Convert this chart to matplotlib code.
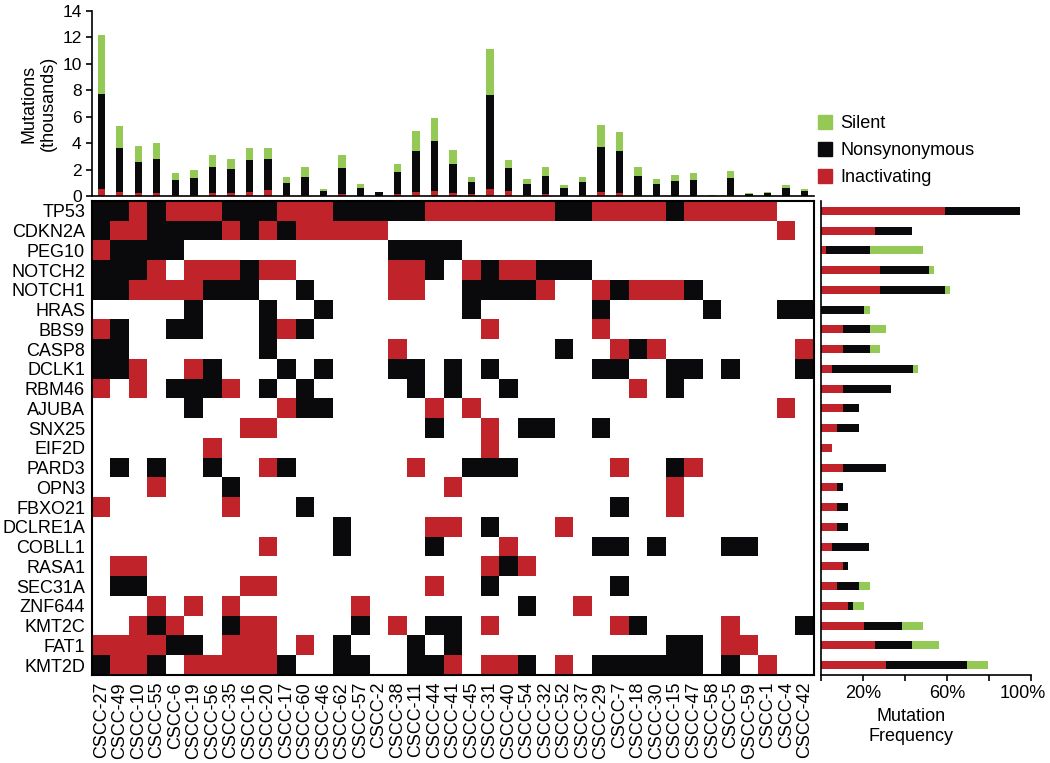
import numpy as np
import matplotlib.pyplot as plt
import matplotlib.transforms as mtransforms
from matplotlib.colors import ListedColormap
from matplotlib.patches import Patch

plt.rcParams['font.family'] = ['Liberation Sans', 'DejaVu Sans']

RED = '#c1232b'
BLACK = '#0a0a0c'
GREEN = '#93c954'
FS = 13

# samples (columns) and genes (rows)
samples = ['CSCC-27', 'CSCC-49', 'CSCC-10', 'CSCC-55', 'CSCC-6', 'CSCC-19', 'CSCC-56',
           'CSCC-35', 'CSCC-16', 'CSCC-20', 'CSCC-17', 'CSCC-60', 'CSCC-46', 'CSCC-62',
           'CSCC-57', 'CSCC-2', 'CSCC-38', 'CSCC-11', 'CSCC-44', 'CSCC-41', 'CSCC-45',
           'CSCC-31', 'CSCC-40', 'CSCC-54', 'CSCC-32', 'CSCC-52', 'CSCC-37', 'CSCC-29',
           'CSCC-7', 'CSCC-18', 'CSCC-30', 'CSCC-15', 'CSCC-47', 'CSCC-58', 'CSCC-5',
           'CSCC-59', 'CSCC-1', 'CSCC-4', 'CSCC-42']

genes = ['TP53', 'CDKN2A', 'PEG10', 'NOTCH2', 'NOTCH1', 'HRAS', 'BBS9', 'CASP8',
         'DCLK1', 'RBM46', 'AJUBA', 'SNX25', 'EIF2D', 'PARD3', 'OPN3', 'FBXO21',
         'DCLRE1A', 'COBLL1', 'RASA1', 'SEC31A', 'ZNF644', 'KMT2C', 'FAT1', 'KMT2D']

# mutation calls per gene: R = inactivating, B = nonsynonymous, . = none
calls = [
    'BBRBRRRBBB' 'RRRBBBBBRR' 'RRRRRBBRRR' 'RBRRRRR..',
    'BRRBBBBRBR' 'BRRRRR....' '..........' '.......R.',
    'RBBBB.....' '......BBBB' '..........' '.........',
    'BBBR.RRRBR' 'R.....RRB.' 'RBRRBBB...' '.........',
    'BBRRRRBBB.' '.B....RR..' 'BBBBR..RBR' 'RRB......',
    '.....B...B' '..B.......' 'B......B..' '...B...BB',
    'RB..BB...B' 'RB........' '.R.....R..' '.........',
    'BB.......B' '......R...' '.....B..RB' 'R.......R',
    'BBR..RB...' 'B.B...BB.B' '.B.....BB.' '.BB.B...B',
    'R.R.BBBR.B' '.B.....B.B' '..B......R' '.B.......',
    '.....B....' 'RBB.....R.' 'R.........' '.......R.',
    '........RR' '........B.' '.R.BB..B..' '.........',
    '......R...' '..........' '.R........' '.........',
    '.B.B..B..R' 'B......R..' 'BBB.....R.' '.BR......',
    '...R...B..' '.........R' '..........' '.R.......',
    'R......R..' '.B........' '........B.' '.R.......',
    '..........' '...B....RR' '.B...R....' '.........',
    '.........R' '...B....B.' '..R....BB.' 'B...BB...',
    '.RR.......' '..........' '.RBR......' '.........',
    '.BB.....RR' '........R.' '.B......B.' '.........',
    '...R.R.R..' '....R.....' '...B..R...' '.........',
    '..RBR..BRR' '....B.R.BB' '.R......RB' '....R...B',
    'RRRRBB.RRR' '.R.B...B.B' '..........' '.BB.RR...',
    'BRRB.RRRRR' 'B..BB..BBR' '.RRB.R.BBB' 'BBB.B.R..',
]

# mutations per sample (thousands)
inact_k = [0.53, 0.28, 0.20, 0.20, 0.10, 0.10, 0.20, 0.20, 0.33, 0.43, 0.08, 0.10, 0.02,
           0.12, 0.03, 0.00, 0.15, 0.28, 0.38, 0.23, 0.15, 0.56, 0.35, 0.10, 0.13, 0.03,
           0.10, 0.28, 0.25, 0.10, 0.03, 0.03, 0.03, 0.00, 0.10, 0.00, 0.00, 0.03, 0.03]
nonsyn_k = [7.22, 3.32, 2.40, 2.60, 1.14, 1.30, 2.03, 1.83, 2.37, 2.37, 0.92, 1.37, 0.36,
            2.03, 0.60, 0.28, 1.65, 3.14, 3.80, 2.23, 0.89, 7.06, 1.78, 0.81, 1.36, 0.55,
            0.99, 3.42, 3.12, 1.44, 0.88, 1.11, 1.19, 0.02, 1.30, 0.18, 0.25, 0.55, 0.32]
silent_k = [4.40, 1.67, 1.20, 1.20, 0.48, 0.57, 0.91, 0.77, 0.90, 0.80, 0.42, 0.73, 0.12,
            0.99, 0.26, 0.02, 0.66, 1.47, 1.74, 1.04, 0.43, 3.52, 0.58, 0.36, 0.69, 0.23,
            0.38, 1.64, 1.49, 0.64, 0.36, 0.43, 0.53, 0.02, 0.52, 0.02, 0.05, 0.24, 0.20]

# mutation frequency per gene (%)
inact_pct = [59.0, 25.6, 2.6, 28.2, 28.2, 0.0, 10.3, 10.3, 5.1, 10.3, 10.3, 7.7,
             5.1, 10.3, 7.7, 7.7, 7.7, 5.1, 10.3, 7.7, 12.8, 20.5, 25.6, 30.8]
nonsyn_pct = [35.9, 17.9, 20.5, 23.1, 30.8, 20.5, 12.8, 12.8, 38.5, 23.1, 7.7, 10.3,
              0.0, 20.5, 2.6, 5.1, 5.1, 17.9, 2.6, 10.3, 2.6, 17.9, 17.9, 38.5]
silent_pct = [0.0, 0.0, 25.6, 2.6, 2.6, 2.6, 7.7, 5.1, 2.6, 0.0, 0.0, 0.0,
              0.0, 0.0, 0.0, 0.0, 0.0, 0.0, 0.0, 5.1, 5.1, 10.3, 12.8, 10.3]

code = {'.': 0, 'R': 1, 'B': 2}
mat = np.array([[code[c] for c in row] for row in calls])

fig = plt.figure(figsize=(10.5, 7.63), dpi=100)
ax_top = fig.add_axes([0.0876, 0.7431, 0.6876, 0.2425])
ax_mat = fig.add_axes([0.0876, 0.1153, 0.6876, 0.6212])
ax_bar = fig.add_axes([0.7819, 0.1153, 0.2, 0.6212])

# top: mutation counts
x = np.arange(len(samples))
ax_top.bar(x, inact_k, 0.4, color=RED)
ax_top.bar(x, nonsyn_k, 0.4, bottom=inact_k, color=BLACK)
ax_top.bar(x, silent_k, 0.4, bottom=np.add(inact_k, nonsyn_k), color=GREEN)
ax_top.set_xlim(-0.5, len(samples) - 0.5)
ax_top.set_ylim(0, 14)
ax_top.set_yticks(range(0, 15, 2))
ax_top.set_xticks([])
ax_top.tick_params(axis='y', labelsize=12.5, length=4, width=1.2)
ax_top.set_ylabel('Mutations\n(thousands)', fontsize=FS)
for s in ['top', 'right']:
    ax_top.spines[s].set_visible(False)
for s in ['left', 'bottom']:
    ax_top.spines[s].set_linewidth(1.2)

ax_top.legend(handles=[Patch(color=GREEN, label='Silent'),
                       Patch(color=BLACK, label='Nonsynonymous'),
                       Patch(color=RED, label='Inactivating')],
              loc='upper left', bbox_to_anchor=(818 / 1050, 1 - 115 / 763),
              bbox_transform=fig.transFigure, frameon=False, fontsize=FS,
              handlelength=0.78, handleheight=0.78, handletextpad=0.45,
              labelspacing=0.55, borderpad=0, borderaxespad=0)

# middle: mutation matrix
cmap = ListedColormap(['white', RED, BLACK])
ax_mat.imshow(mat, cmap=cmap, vmin=0, vmax=2, aspect='auto', interpolation='nearest')
ax_mat.set_xticks(x)
ax_mat.set_xticklabels(samples, rotation=90, fontsize=FS)
ax_mat.set_yticks(range(len(genes)))
ax_mat.set_yticklabels(genes, fontsize=FS)
ax_mat.tick_params(axis='y', length=0, pad=5)
ax_mat.tick_params(axis='x', length=0, pad=5)
for s in ax_mat.spines.values():
    s.set_linewidth(1.5)

# right: mutation frequency
y = np.arange(len(genes))
ax_bar.barh(y, inact_pct, 0.4, color=RED)
ax_bar.barh(y, nonsyn_pct, 0.4, left=inact_pct, color=BLACK)
ax_bar.barh(y, silent_pct, 0.4, left=np.add(inact_pct, nonsyn_pct), color=GREEN)
ax_bar.set_ylim(len(genes) - 0.5, -0.5)
ax_bar.set_xlim(0, 100)
ax_bar.set_yticks([])
ax_bar.set_xticks([0, 20, 40, 60, 80, 100])
ax_bar.set_xticklabels(['', '20%', '', '60%', '', '100%'])
ax_bar.tick_params(axis='x', labelsize=FS, length=4, width=1.2)
ax_bar.set_xlabel('Mutation\nFrequency', fontsize=FS, x=0.43)
for s in ['top', 'right']:
    ax_bar.spines[s].set_visible(False)
for s in ['left', 'bottom']:
    ax_bar.spines[s].set_linewidth(1.2)

# keep the last tick label inside the figure
last = ax_bar.get_xticklabels()[-1]
last.set_transform(last.get_transform() +
                   mtransforms.ScaledTranslation(-6 / 72, 0, fig.dpi_scale_trans))

fig.savefig('out.png', dpi=100)
